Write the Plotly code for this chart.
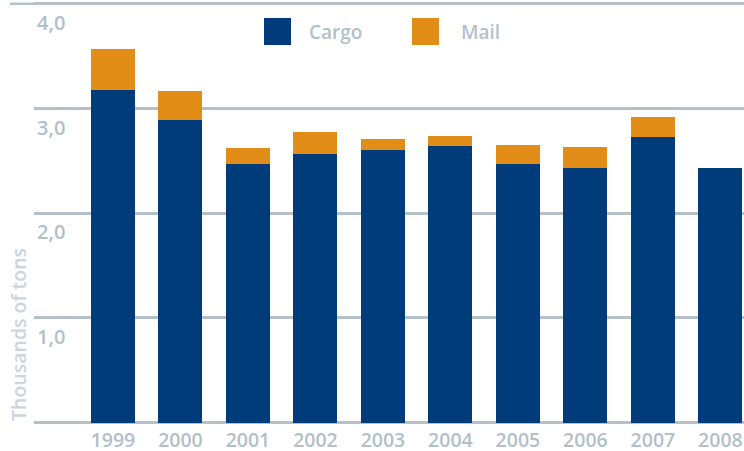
import plotly.graph_objects as go

years = ["1999", "2000", "2001", "2002", "2003", "2004", "2005", "2006", "2007", "2008"]
cargo = [3.18, 2.89, 2.47, 2.57, 2.60, 2.64, 2.47, 2.43, 2.73, 2.43]
mail = [0.39, 0.28, 0.15, 0.21, 0.11, 0.10, 0.18, 0.20, 0.19, 0.00]
y_ticks = [0, 1, 2, 3, 4]
y_tick_labels = ["", "1,0", "2,0", "3,0", "4,0"]
series_names = ["Cargo", "Mail"]

CARGO_COLOR = "#003b7a"
MAIL_COLOR = "#e18d17"
GRID_COLOR = "#b5c1c9"
TEXT_COLOR = "#b3bfc8"
TITLE_COLOR = "#ccd5dc"
FONT = "Open Sans"

W, H = 744, 451
ML, MR, MT, MB = 34, 0, 1, 28
PW = W - ML - MR
PH = H - MT - MB

fig = go.Figure()
fig.add_trace(go.Bar(x=years, y=cargo, name=series_names[0], marker_color=CARGO_COLOR,
                     marker_line_width=0, showlegend=False))
fig.add_trace(go.Bar(x=years, y=mail, name=series_names[1], marker_color=MAIL_COLOR,
                     marker_line_width=0, showlegend=False))

# legend drawn as swatches + labels (large square swatches)
legend_items = [(series_names[0], CARGO_COLOR, 264, 307), (series_names[1], MAIL_COLOR, 412, 459)]
for name, col, sx, tx in legend_items:
    fig.add_shape(type="rect", xref="paper", yref="paper",
                  x0=(sx - ML) / PW, x1=(sx + 27 - ML) / PW,
                  y0=1 - (45 - MT) / PH, y1=1 - (18 - MT) / PH,
                  fillcolor=col, line_width=0, layer="above")
    fig.add_annotation(text=name, xref="paper", yref="paper",
                       x=(tx - ML) / PW, y=1 - (31.5 - MT) / PH,
                       xanchor="left", yanchor="middle", showarrow=False,
                       font=dict(family=FONT, size=19, color=TEXT_COLOR, weight=600))

# top grid line extends further left
fig.add_shape(type="line", xref="paper", yref="y", x0=(10 - ML) / PW, x1=1, y0=4, y1=4,
              line=dict(color=GRID_COLOR, width=2.5), layer="below")

fig.add_annotation(text="Thousands of tons", xref="paper", yref="paper",
                   x=(18 - ML) / PW, y=1 - (335 - MT) / PH,
                   textangle=-90, showarrow=False, xanchor="center", yanchor="middle",
                   font=dict(family=FONT, size=19.5, color=TITLE_COLOR, weight=600))

fig.update_layout(
    width=W, height=H,
    margin=dict(l=ML, r=MR, t=MT, b=MB, pad=0, autoexpand=False),
    barmode="stack", bargap=0.348,
    plot_bgcolor="white", paper_bgcolor="white",
    font=dict(family=FONT, color=TEXT_COLOR),
    xaxis=dict(type="category", range=[-1.17, 9.35], showgrid=False, zeroline=False,
               showline=False, ticks="", automargin=False,
               tickfont=dict(size=19.5, color=TEXT_COLOR, family=FONT, weight=600),
               ticklabelstandoff=3),
    yaxis=dict(range=[-0.003, 4.027], tickvals=y_ticks, ticktext=y_tick_labels,
               showgrid=True, gridcolor=GRID_COLOR, gridwidth=2.5,
               zeroline=True, zerolinecolor=GRID_COLOR, zerolinewidth=2.5,
               showline=False, ticks="", automargin=False,
               ticklabelposition="inside", ticklabelshift=19, ticklabelstandoff=0,
               tickfont=dict(size=20, color=TEXT_COLOR, family=FONT, weight=600)),
)

fig.write_html("out.html", config={"displayModeBar": False},
               post_script="document.body.style.margin='0';document.body.style.padding='0';")
